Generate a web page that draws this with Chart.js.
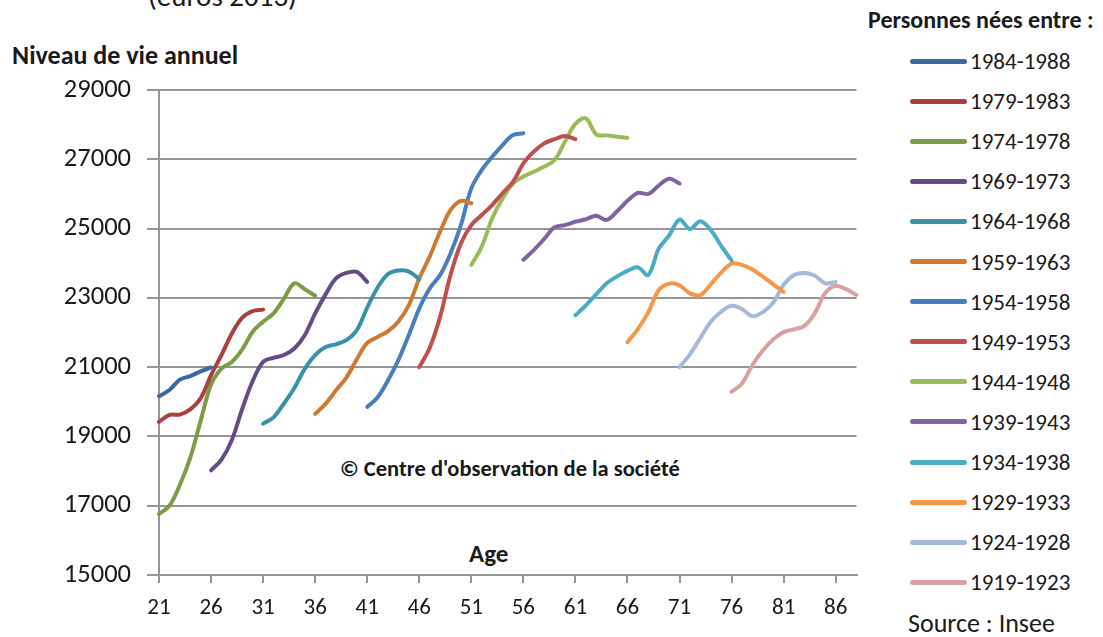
<!DOCTYPE html>
<html>
<head>
<meta charset="utf-8">
<script src="https://cdn.jsdelivr.net/npm/chart.js@4.4.0/dist/chart.umd.min.js"></script>
<style>
	body { margin: 0; background: #fff; width: 1103px; height: 637px; overflow: hidden; position: relative; font-family: Carlito, Lato, sans-serif; color: #1a1a1a; }
	canvas { position: absolute; left: 0; top: 0; }
	.txt { position: absolute; white-space: nowrap; line-height: 1; transform: translateY(-50%); }
	.bold { font-weight: bold; }
	#legend { position: absolute; left: 0; top: 0; width: 1103px; }
	.item { position: absolute; left: 910px; height: 26px; white-space: nowrap; transform: translateY(-50%); display: flex; align-items: center; font-size: 23px; }
	.item span.swatch { display: inline-block; width: 57px; height: 5px; border-radius: 3px; margin-right: 3px; }
</style>
</head>
<body>
<div class="txt" style="left:148px;top:-4px;font-size:29px;">(euros 2013)</div>
<div class="txt bold" style="left:12px;top:55px;font-size:26px;">Niveau de vie annuel</div>
<div class="txt bold" style="left:868px;top:20px;font-size:24px;">Personnes nées entre :</div>
<div class="txt bold" style="left:340px;top:469px;font-size:22.5px;">© Centre d'observation de la société</div>
<div class="txt bold" style="left:469px;top:553px;font-size:25px;">Age</div>
<div class="txt" style="left:908px;top:623px;font-size:26px;">Source : Insee</div>
<div id="legend"></div>
<canvas id="chart-niveau-vie" width="1103" height="637"></canvas>
<script>
// Ages on the x axis
const AGES = [21, 22, 23, 24, 25, 26, 27, 28, 29, 30, 31, 32, 33, 34, 35, 36, 37, 38, 39, 40,
	41, 42, 43, 44, 45, 46, 47, 48, 49, 50, 51, 52, 53, 54, 55, 56, 57, 58, 59, 60,
	61, 62, 63, 64, 65, 66, 67, 68, 69, 70, 71, 72, 73, 74, 75, 76, 77, 78, 79, 80,
	81, 82, 83, 84, 85, 86, 87, 88];

const COHORTS = ["1984-1988", "1979-1983", "1974-1978", "1969-1973", "1964-1968", "1959-1963", "1954-1958",
	"1949-1953", "1944-1948", "1939-1943", "1934-1938", "1929-1933", "1924-1928", "1919-1923"];

// first age of each cohort's series
const START_AGES = [21, 21, 21, 26, 31, 36, 41, 46, 51, 56, 61, 66, 71, 76];

const COLORS = ["#3b69a1", "#aa403d", "#7e9c45", "#654c87", "#3a92a8", "#d07a31", "#4a7ebe",
	"#c0504d", "#9bbb59", "#8064a2", "#4bacc6", "#f79646", "#a6b9da", "#d9a1a0"];

// Niveau de vie annuel (euros 2013), one value per age from the start age
const V_1984_1988 = [20160, 20340, 20640, 20740, 20880, 20990];
const V_1979_1983 = [19420, 19620, 19630, 19780, 20100, 20770, 21350, 21970, 22430, 22620, 22660];
const V_1974_1978 = [16760, 17000, 17600, 18380, 19450, 20500, 20960, 21150, 21510, 22020, 22310, 22550, 22980, 23420, 23250, 23060];
const V_1969_1973 = [18020, 18330, 18900, 19800, 20600, 21150, 21270, 21350, 21540, 21920, 22550, 23100, 23560, 23720, 23750, 23460];
const V_1964_1968 = [19370, 19550, 19950, 20400, 20950, 21350, 21580, 21660, 21780, 22070, 22720, 23300, 23690, 23790, 23760, 23540];
const V_1959_1963 = [19650, 19940, 20330, 20700, 21230, 21700, 21870, 22040, 22320, 22790, 23560, 24190, 24910, 25530, 25800, 25730];
const V_1954_1958 = [19850, 20130, 20620, 21210, 21930, 22690, 23270, 23660, 24280, 25100, 26160, 26690, 27070, 27410, 27700, 27750];
const V_1949_1953 = [21000, 21550, 22450, 23660, 24570, 25100, 25390, 25680, 26020, 26350, 26880, 27220, 27460, 27580, 27670, 27580];
const V_1944_1948 = [23950, 24480, 25290, 25870, 26300, 26500, 26640, 26790, 26980, 27510, 28020, 28180, 27720, 27690, 27650, 27620];
const V_1939_1943 = [24100, 24380, 24700, 25040, 25100, 25200, 25270, 25370, 25250, 25500, 25800, 26030, 26000, 26240, 26440, 26300];
const V_1934_1938 = [22500, 22780, 23100, 23420, 23620, 23780, 23880, 23660, 24420, 24800, 25260, 24990, 25210, 24960, 24500, 24080];
const V_1929_1933 = [21720, 22100, 22580, 23220, 23410, 23360, 23130, 23080, 23390, 23730, 23990, 23950, 23820, 23610, 23390, 23170];
const V_1924_1928 = [21000, 21370, 21840, 22310, 22600, 22770, 22680, 22470, 22590, 22860, 23380, 23660, 23720, 23640, 23420, 23460];
const V_1919_1923 = [20290, 20530, 21060, 21480, 21800, 22010, 22090, 22190, 22560, 23140, 23350, 23250, 23080];

const SERIES = [V_1984_1988, V_1979_1983, V_1974_1978, V_1969_1973, V_1964_1968, V_1959_1963, V_1954_1958,
	V_1949_1953, V_1944_1948, V_1939_1943, V_1934_1938, V_1929_1933, V_1924_1928, V_1919_1923];

const Y_TICKS = [15000, 17000, 19000, 21000, 23000, 25000, 27000, 29000];

const FONT = "Carlito, Lato, sans-serif";
const GRID_COLOR = "#969696";

// pad each cohort with nulls so it lines up with the age categories
const toAgeData = (values, start) => AGES.map((age) => {
	const i = age - start;
	return i >= 0 && i < values.length ? values[i] : null;
});

const CHART_DATA = {
	labels: AGES,
	datasets: COHORTS.map((name, i) => ({
		label: name,
		data: toAgeData(SERIES[i], START_AGES[i]),
		borderColor: COLORS[i],
		backgroundColor: COLORS[i],
		borderWidth: 4,
		borderCapStyle: "round",
		borderJoinStyle: "round",
		tension: 0.35,
		pointRadius: 0,
		fill: false,
		spanGaps: false,
	})),
};

const isLabelled = (index) => (AGES[index] - AGES[0]) % 5 === 0;

const CHART_CONFIG = {
	type: "line",
	data: CHART_DATA,
	options: {
		responsive: false,
		animation: false,
		layout: {
			padding: { left: 0, right: 246.5, top: 90, bottom: 0 },
		},
		scales: {
			x: {
				type: "category",
				offset: false,
				border: { display: true, color: GRID_COLOR, width: 2 },
				grid: {
					drawOnChartArea: false,
					drawTicks: true,
					tickLength: 8,
					offset: false,
					lineWidth: 2,
					color: (ctx) => (isLabelled(ctx.index) ? GRID_COLOR : "rgba(0,0,0,0)"),
				},
				ticks: {
					autoSkip: false,
					maxRotation: 0,
					padding: 11,
					color: "#1a1a1a",
					font: { family: FONT, size: 23 },
					callback: (value, index) => (isLabelled(index) ? String(AGES[index]) : ""),
				},
				afterFit: (scale) => { scale.height = 62; },
			},
			y: {
				min: Y_TICKS[0],
				max: Y_TICKS[Y_TICKS.length - 1],
				border: { display: true, color: GRID_COLOR, width: 2 },
				grid: {
					color: GRID_COLOR,
					lineWidth: 2,
					tickLength: 12,
				},
				afterBuildTicks: (scale) => { scale.ticks = Y_TICKS.map((v) => ({ value: v })); },
				ticks: {
					padding: 16,
					color: "#1a1a1a",
					font: { family: FONT, size: 26.5 },
					callback: (v) => String(v),
				},
				afterFit: (scale) => { scale.width = 159; },
			},
		},
		plugins: {
			legend: { display: false },
			tooltip: { enabled: false },
		},
	},
};

new Chart(document.getElementById("chart-niveau-vie"), CHART_CONFIG);

// HTML legend built from the cohort names and colours
const LEGEND_TOP = 61;
const LEGEND_STEP = 40.1;
const legendBox = document.getElementById("legend");
COHORTS.forEach((name, i) => {
	const item = document.createElement("div");
	item.className = "item";
	item.style.top = (LEGEND_TOP + i * LEGEND_STEP) + "px";
	item.innerHTML = '<span class="swatch" style="background:' + COLORS[i] + '"></span>' + name;
	legendBox.appendChild(item);
});
</script>
</body>
</html>
